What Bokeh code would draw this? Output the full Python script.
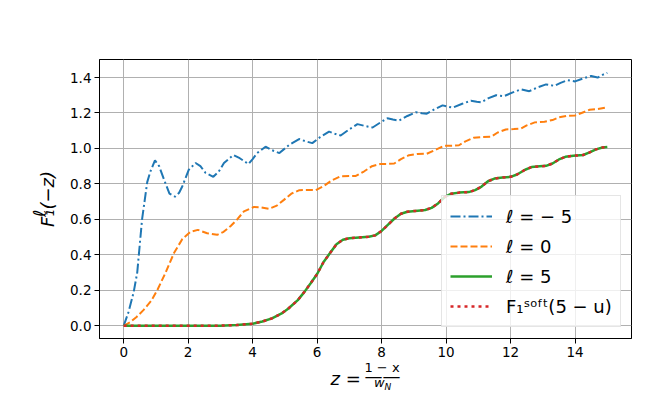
from bokeh.plotting import figure
from bokeh.models import (Range1d, FixedTicker, PrintfTickFormatter, Legend, LegendItem, Title)
from bokeh.embed import file_html
from bokeh.resources import INLINE

# ---- data ----
z_m5 = [0.0, 0.15, 0.31, 0.42, 0.57, 0.73, 0.83, 0.97, 1.1, 1.25, 1.42, 1.59, 1.72, 1.82,
        2.02, 2.23, 2.38, 2.54, 2.78, 2.95, 3.11, 3.40, 3.6, 3.87, 4.0, 4.14, 4.40, 4.6,
        4.83, 5.13, 5.44, 5.65, 5.85, 6.1, 6.37, 6.55, 6.73, 7.0, 7.25, 7.5, 7.72, 7.95,
        8.18, 8.35, 8.54, 8.8, 9.06, 9.25, 9.4, 9.65, 9.89, 10.05, 10.2, 10.5, 10.77,
        10.95, 11.08, 11.3, 11.55, 11.8, 12.05, 12.32, 12.58, 12.85, 13.1, 13.36, 13.55,
        13.77, 14.0, 14.25, 14.5, 14.7, 14.85, 15.0]
f_m5 = [0.0, 0.078, 0.19, 0.30, 0.60, 0.81, 0.871, 0.933, 0.90, 0.825, 0.745, 0.728, 0.75,
        0.787, 0.88, 0.918, 0.90, 0.862, 0.84, 0.87, 0.918, 0.963, 0.945, 0.912, 0.94,
        0.974, 1.010, 0.99, 0.974, 1.02, 1.053, 1.04, 1.03, 1.065, 1.095, 1.083, 1.073,
        1.108, 1.137, 1.126, 1.118, 1.145, 1.17, 1.163, 1.157, 1.183, 1.204, 1.198,
        1.196, 1.222, 1.243, 1.236, 1.23, 1.252, 1.269, 1.263, 1.26, 1.282, 1.30, 1.295,
        1.315, 1.333, 1.323, 1.345, 1.361, 1.353, 1.37, 1.385, 1.378, 1.395, 1.409, 1.40,
        1.415, 1.426]

z_0 = [0.0, 0.2, 0.4, 0.62, 0.85, 1.04, 1.30, 1.56, 1.82, 2.07, 2.30, 2.59, 2.90, 3.10,
       3.32, 3.52, 3.73, 4.04, 4.25, 4.51, 4.75, 4.97, 5.2, 5.45, 5.7, 5.96, 6.2, 6.45,
       6.73, 7.0, 7.2, 7.45, 7.7, 7.98, 8.2, 8.39, 8.6, 8.85, 9.11, 9.4, 9.65, 9.94, 10.2,
       10.4, 10.6, 10.85, 11.1, 11.4, 11.6, 11.85, 12.1, 12.32, 12.5, 12.75, 13.05, 13.3,
       13.5, 13.75, 14.0, 14.2, 14.45, 14.7, 15.0]
f_0 = [0.0, 0.02, 0.05, 0.09, 0.14, 0.20, 0.30, 0.41, 0.49, 0.53, 0.541, 0.522, 0.513,
       0.53, 0.563, 0.60, 0.645, 0.670, 0.668, 0.66, 0.678, 0.71, 0.745, 0.765, 0.766,
       0.765, 0.787, 0.82, 0.843, 0.844, 0.845, 0.87, 0.90, 0.913, 0.913, 0.915, 0.94,
       0.962, 0.969, 0.97, 0.99, 1.015, 1.015, 1.018, 1.04, 1.06, 1.064, 1.066, 1.09,
       1.107, 1.109, 1.112, 1.13, 1.147, 1.151, 1.16, 1.175, 1.184, 1.186, 1.20, 1.218,
       1.222, 1.232]

z_5 = [0.0, 1.0, 2.0, 3.0, 3.5, 4.0, 4.3, 4.6, 4.9, 5.1, 5.4, 5.6, 5.8, 6.0, 6.2, 6.4,
       6.6, 6.8, 7.0, 7.3, 7.6, 7.8, 8.0, 8.2, 8.4, 8.6, 8.8, 9.05, 9.35, 9.55, 9.75,
       9.95, 10.15, 10.4, 10.7, 10.9, 11.1, 11.3, 11.5, 11.75, 12.0, 12.2, 12.45, 12.65,
       12.9, 13.1, 13.3, 13.5, 13.7, 13.95, 14.25, 14.45, 14.65, 14.85, 15.0]
f_5 = [0.0, 0.0, 0.0, 0.001, 0.004, 0.012, 0.024, 0.042, 0.07, 0.096, 0.145, 0.19, 0.24,
       0.292, 0.36, 0.41, 0.46, 0.485, 0.494, 0.498, 0.502, 0.51, 0.535, 0.57, 0.605,
       0.632, 0.643, 0.648, 0.653, 0.665, 0.69, 0.725, 0.744, 0.751, 0.754, 0.765, 0.785,
       0.815, 0.83, 0.836, 0.84, 0.853, 0.88, 0.895, 0.899, 0.902, 0.915, 0.938, 0.953,
       0.959, 0.963, 0.978, 0.995, 1.005, 1.008]

z_soft = list(z_5)
f_soft = list(f_5)

x_ticks = [0, 2, 4, 6, 8, 10, 12, 14]
y_ticks = [0.0, 0.2, 0.4, 0.6, 0.8, 1.0, 1.2, 1.4]
labels = ["\u2113 = \u2212 5", "\u2113 = 0", "\u2113 = 5",
          "F\u2081\u02e2\u1d52\u1da0\u1d57(5 \u2212 u)"]

FONT = "DejaVu Sans"
NB = "\u00a0"

p = figure(width=656, height=393, output_backend="svg", toolbar_location=None,
           x_range=Range1d(-0.75, 15.75), y_range=Range1d(-0.0715, 1.5015),
           min_border_left=99, min_border_right=25, min_border_top=59,
           min_border_bottom=55)
p.background_fill_color = "white"
p.border_fill_color = "white"
p.outline_line_color = "black"
p.outline_line_width = 1

for ax in (p.xaxis[0], p.yaxis[0]):
    ax.major_label_text_font = FONT
    ax.major_label_text_font_size = "13.5px"
    ax.major_label_text_color = "black"
    ax.axis_line_color = "black"
    ax.major_tick_line_color = "black"
    ax.major_tick_out = 5
    ax.major_tick_in = 0
    ax.minor_tick_line_color = None
    ax.major_label_standoff = 3
    ax.axis_label_text_font = FONT
    ax.axis_label_text_color = "black"
p.xaxis.ticker = FixedTicker(ticks=x_ticks)
p.yaxis.ticker = FixedTicker(ticks=y_ticks)
p.yaxis.formatter = PrintfTickFormatter(format="%.1f")
p.xaxis.formatter = PrintfTickFormatter(format="%d")

# x label: numerator as the axis label, the rest as titles anchored at their top
p.xaxis.axis_label = NB * 8 + "1 \u2212 x"
p.xaxis.axis_label_text_font_size = "13px"
p.xaxis.axis_label_text_font_style = "normal"
p.xaxis.axis_label_standoff = 0

def below_title(text, size, offset, standoff, style="italic"):
    t = Title(text=text, align="left", vertical_align="top", offset=offset,
              standoff=standoff, text_font=FONT, text_font_size=size,
              text_font_style=style, text_color="black")
    p.add_layout(t, "below")

below_title("\u2014\u2014", "18px", 265, -25.6, "normal")   # fraction bar
below_title("w", "13px", 274.4, -5)
below_title("N", "9px", 285, -15.7)
below_title("z =", "18px", 231, -43.6)

# y label: two-line axis label (superscript l above F_1(-z))
p.yaxis.axis_label = "\u2113" + NB * 5 + "\n" + "F\u2081(\u2212z)"
p.yaxis.axis_label_text_font_size = "18px"
p.yaxis.axis_label_text_font_style = "italic"
p.yaxis.axis_label_text_line_height = 0.4
p.yaxis.axis_label_standoff = 9

p.xgrid.ticker = FixedTicker(ticks=x_ticks)
p.ygrid.ticker = FixedTicker(ticks=y_ticks)
p.grid.grid_line_color = "#b0b0b0"
p.grid.grid_line_width = 1

r1 = p.line(z_m5, f_m5, line_color="#1f77b4", line_width=2, line_dash="10 3 2 3")
r2 = p.line(z_0, f_0, line_color="#ff7f0e", line_width=2, line_dash="7 3")
r3 = p.line(z_5, f_5, line_color="#2ca02c", line_width=2.5)
r4 = p.line(z_soft, f_soft, line_color="#d62728", line_width=2.5, line_dash="3 4")

legend = Legend(items=[LegendItem(label=labels[0], renderers=[r1]),
                       LegendItem(label=labels[1], renderers=[r2]),
                       LegendItem(label=labels[2], renderers=[r3]),
                       LegendItem(label=labels[3], renderers=[r4])],
                location=(342, 11))
legend.label_text_font = FONT
legend.label_text_font_size = "18px"
legend.label_text_color = "black"
legend.glyph_width = 42
legend.glyph_height = 24
legend.label_height = 24
legend.label_standoff = 14
legend.spacing = 6
legend.padding = 8
legend.margin = 0
legend.border_line_color = "#cccccc"
legend.border_line_width = 1
legend.background_fill_color = "white"
legend.background_fill_alpha = 0.8
p.add_layout(legend, "center")

open("out.html", "w").write(file_html(p, INLINE))
